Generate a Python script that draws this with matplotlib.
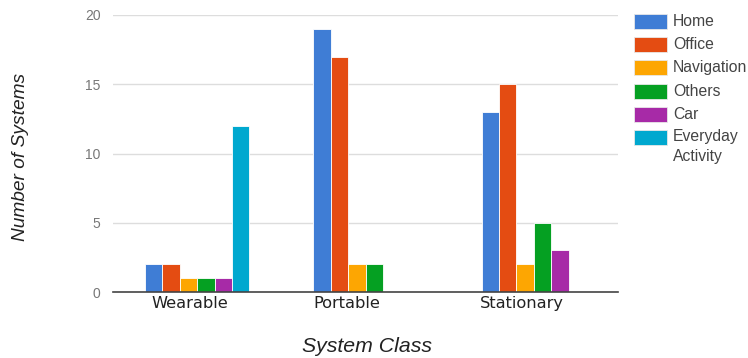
import matplotlib.pyplot as plt
from matplotlib.patches import Rectangle
from matplotlib.transforms import ScaledTranslation
import numpy as np

categories = ["Wearable", "Portable", "Stationary"]
series = ["Home", "Office", "Navigation", "Others", "Car", "Everyday\nActivity"]
home = [2, 19, 13]
office = [2, 17, 15]
navigation = [1, 2, 2]
others = [1, 2, 5]
car = [1, 0, 3]
everyday = [12, 0, 0]
values = [home, office, navigation, others, car, everyday]
colors = ["#3f7dd5", "#e44c12", "#fda602", "#05a022", "#a72aa7", "#00a8cf"]
yticks = [0, 5, 10, 15, 20]

W, H = 748, 358
fig = plt.figure(figsize=(W / 100, H / 100), dpi=100)
ax = fig.add_axes([113 / W, 66 / H, 505 / W, 277 / H])

x = np.arange(len(categories))
slot = 0.1034
n = len(series)
for i, (name, vals, c) in enumerate(zip(series, values, colors)):
    offs = (i - (n - 1) / 2) * slot
    ax.bar(x + offs, vals, width=slot, color=c, edgecolor="white",
           linewidth=0.6, label=name, zorder=3)

ax.set_xlim(-0.5, len(categories) - 0.5)
ax.set_ylim(0, 20)
ax.set_yticks(yticks)
ax.set_yticklabels([str(v) for v in yticks], family="Liberation Sans",
                   fontsize=10, color="#777777")
ax.set_xticks(x)
ax.set_xticklabels(categories, family="DejaVu Sans", fontsize=11.7, color="#222222")
ax.tick_params(axis="both", length=0)
ax.tick_params(axis="y", pad=9)
ax.tick_params(axis="x", pad=3)
# category labels sit slightly left of their bar groups
label_shift_px = [-7, -19, -12]
for lbl, dx in zip(ax.get_xticklabels(), label_shift_px):
    lbl.set_transform(lbl.get_transform() + ScaledTranslation(dx / 100, 0, fig.dpi_scale_trans))
ax.grid(axis="y", color="#dddddd", linewidth=1, zorder=0)
for s in ["top", "right", "left"]:
    ax.spines[s].set_visible(False)
ax.spines["bottom"].set_color("#444444")
ax.spines["bottom"].set_linewidth(1.2)
ax.spines["bottom"].set_zorder(4)

fig.text(367 / W, 1 - 346 / H, "System Class", ha="center", va="center",
         family="Liberation Sans", style="italic", fontsize=15.3, color="#222222")
fig.text(21 / W, 1 - 157 / H, "Number of Systems", ha="center", va="center",
         rotation=90, family="Liberation Sans", style="italic", fontsize=13.8,
         color="#222222")

# legend drawn on the right, one swatch per series
row_step = 23.2
for i, (name, c) in enumerate(zip(series, colors)):
    top = 14 + i * row_step
    fig.patches.append(Rectangle((634 / W, 1 - (top + 15) / H), 33 / W, 15 / H,
                                 transform=fig.transFigure, facecolor=c,
                                 edgecolor="#e8e8e8", linewidth=0.6))
    fig.text(673 / W, 1 - (top + 7.5) / H, name, ha="left", va="center" if "\n" not in name else "top",
             family="Liberation Sans", fontsize=11.3, color="#444444",
             linespacing=1.45)
# multi-line label starts aligned with its swatch
for t in fig.texts:
    if "\n" in t.get_text():
        t.set_y(1 - (14 + 5 * row_step - 1) / H)

fig.savefig("out.png", dpi=100)
